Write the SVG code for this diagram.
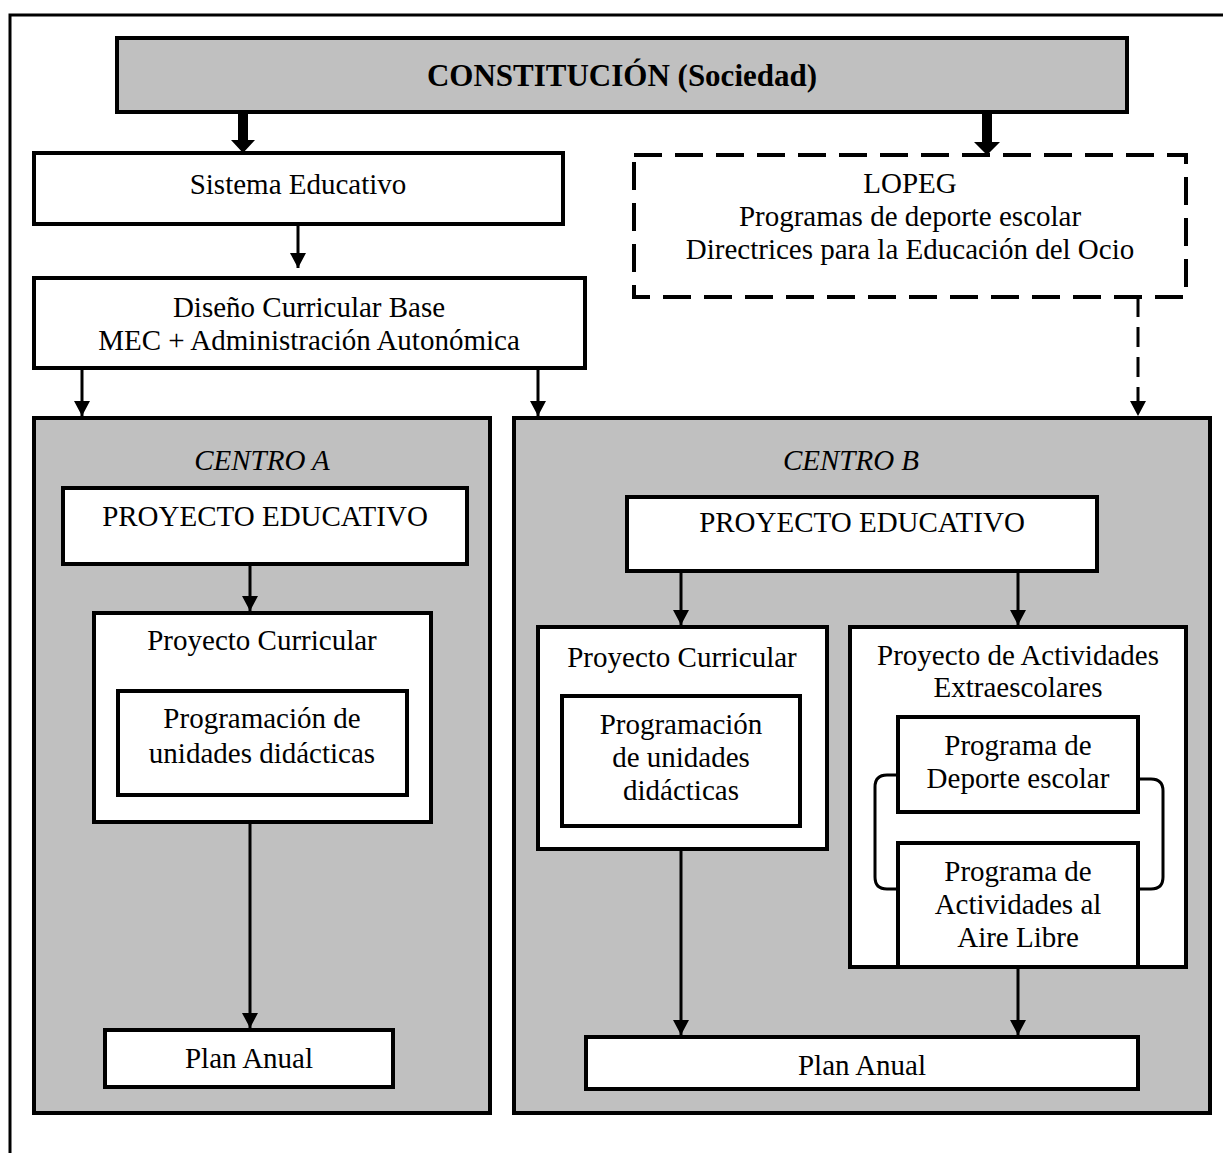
<svg xmlns="http://www.w3.org/2000/svg" width="1223" height="1153" viewBox="0 0 1223 1153">
<style>
  text { font-family: "Liberation Serif", "Times New Roman", serif; font-size: 29px; fill: #000; text-anchor: middle; }
  .title { font-weight: bold; font-size: 31px; }
  .ital { font-style: italic; }
  .box { fill: #fff; stroke: #000; stroke-width: 4; }
  .gray { fill: #c0c0c0; stroke: #000; stroke-width: 4; }
  .dash { fill: #fff; stroke: #000; stroke-width: 4; stroke-dasharray: 28 13; }
  .line { fill: none; stroke: #000; stroke-width: 3; }
  .dline { fill: none; stroke: #000; stroke-width: 3; stroke-dasharray: 20 10; }
</style>
<defs>
  <marker id="ah" markerUnits="userSpaceOnUse" markerWidth="18" markerHeight="16" refX="15" refY="8" orient="auto" viewBox="0 0 18 16">
    <path d="M0,0 L15,8 L0,16 z" fill="#000"/>
  </marker>
</defs>
<rect width="1223" height="1153" fill="#fff"/>
<path d="M10,1153 V15 H1223" fill="none" stroke="#000" stroke-width="3"/>

<g id="constitucion">
  <rect class="gray" x="117" y="38" width="1010" height="74"/>
  <text class="title" x="622" y="86">CONSTITUCIÓN (Sociedad)</text>
</g>

<g id="centroA">
  <rect class="gray" x="34" y="418" width="456" height="695"/>
  <text class="ital" x="262" y="470">CENTRO A</text>
</g>
<g id="centroB">
  <rect class="gray" x="514" y="418" width="696" height="695"/>
  <text class="ital" x="851" y="470">CENTRO B</text>
</g>

<g id="sistema">
  <rect class="box" x="34" y="153" width="529" height="71"/>
  <text x="298" y="194">Sistema Educativo</text>
</g>
<g id="diseno">
  <rect class="box" x="34" y="278" width="551" height="90"/>
  <text x="309" y="317">Diseño Curricular Base</text>
  <text x="309" y="350">MEC + Administración Autonómica</text>
</g>
<g id="lopeg">
  <rect class="dash" x="634" y="155" width="552" height="142"/>
  <text x="910" y="193">LOPEG</text>
  <text x="910" y="226">Programas de deporte escolar</text>
  <text x="910" y="259">Directrices para la Educación del Ocio</text>
</g>

<g id="peA">
  <rect class="box" x="63" y="488" width="404" height="76"/>
  <text x="265" y="526">PROYECTO EDUCATIVO</text>
</g>
<g id="pcA">
  <rect class="box" x="94" y="613" width="337" height="209"/>
  <text x="262" y="650">Proyecto Curricular</text>
</g>
<g id="pudA">
  <rect class="box" x="118" y="691" width="289" height="104"/>
  <text x="262" y="728">Programación de</text>
  <text x="262" y="763">unidades didácticas</text>
</g>
<g id="paA">
  <rect class="box" x="105" y="1030" width="288" height="57"/>
  <text x="249" y="1068">Plan Anual</text>
</g>

<g id="peB">
  <rect class="box" x="627" y="497" width="470" height="74"/>
  <text x="862" y="532">PROYECTO EDUCATIVO</text>
</g>
<g id="pcB">
  <rect class="box" x="538" y="627" width="289" height="222"/>
  <text x="682" y="667">Proyecto Curricular</text>
</g>
<g id="pudB">
  <rect class="box" x="562" y="696" width="238" height="130"/>
  <text x="681" y="734">Programación</text>
  <text x="681" y="767">de unidades</text>
  <text x="681" y="800">didácticas</text>
</g>
<g id="paeB">
  <rect class="box" x="850" y="627" width="336" height="340"/>
  <text x="1018" y="665">Proyecto de Actividades</text>
  <text x="1018" y="697">Extraescolares</text>
</g>
<g id="bracket">
  <path class="line" d="M898,775 H887 Q875,775 875,787 V877 Q875,889 887,889 H898"/>
  <path class="line" d="M1138,779 H1151 Q1163,779 1163,791 V877 Q1163,889 1151,889 H1138"/>
</g>
<g id="pdeB">
  <rect class="box" x="898" y="717" width="240" height="95"/>
  <text x="1018" y="755">Programa de</text>
  <text x="1018" y="788">Deporte escolar</text>
</g>
<g id="paalB">
  <rect class="box" x="898" y="843" width="240" height="124"/>
  <text x="1018" y="881">Programa de</text>
  <text x="1018" y="914">Actividades al</text>
  <text x="1018" y="947">Aire Libre</text>
</g>
<g id="paB">
  <rect class="box" x="586" y="1037" width="552" height="52"/>
  <text x="862" y="1075">Plan Anual</text>
</g>

<g id="connectors">
  <polygon points="238,112 248,112 248,140 255,140 243,153 231,140 238,140" fill="#000"/>
  <polygon points="982,112 992,112 992,142 1000,142 987,155 974,142 982,142" fill="#000"/>
  <line class="line" x1="298" y1="224" x2="298" y2="268" marker-end="url(#ah)"/>
  <line class="line" x1="82" y1="368" x2="82" y2="416" marker-end="url(#ah)"/>
  <line class="line" x1="538" y1="368" x2="538" y2="416" marker-end="url(#ah)"/>
  <line class="dline" x1="1138" y1="297" x2="1138" y2="416" marker-end="url(#ah)"/>
  <line class="line" x1="250" y1="564" x2="250" y2="611" marker-end="url(#ah)"/>
  <line class="line" x1="250" y1="822" x2="250" y2="1028" marker-end="url(#ah)"/>
  <line class="line" x1="681" y1="571" x2="681" y2="625" marker-end="url(#ah)"/>
  <line class="line" x1="1018" y1="571" x2="1018" y2="625" marker-end="url(#ah)"/>
  <line class="line" x1="681" y1="849" x2="681" y2="1035" marker-end="url(#ah)"/>
  <line class="line" x1="1018" y1="967" x2="1018" y2="1035" marker-end="url(#ah)"/>
</g>
</svg>
